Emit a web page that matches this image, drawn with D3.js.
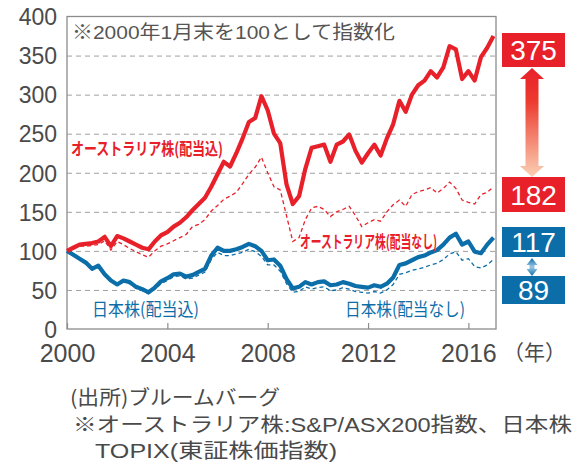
<!DOCTYPE html>
<meta charset="utf-8">
<style>
    body { margin: 0; background: #fff; }
    .grid line { stroke: #a0a0a0; stroke-width: 1; stroke-dasharray: 5, 4; }
    .grid .domain { display: none; }
    .yax text, .xax text { fill: #4a4a4a; font-family: "Liberation Sans", Arial, sans-serif; }
    .yax .domain, .xax .domain { display: none; }
    .xax line { stroke: #8c8c8c; stroke-width: 1.2; }
    .jp { font-family: "Liberation Sans", "Noto Sans CJK JP", sans-serif; }
    .cjk { font-family: "Noto Sans CJK JP", sans-serif; }
</style>
<body>
<script src="https://cdnjs.cloudflare.com/ajax/libs/d3/7.8.5/d3.min.js"></script>
<script>
    // quarterly points, end-Jan 2000 = 100
    var dates = d3.range(0, 69).map(function (i) { return 2000 + i * 0.25; });

    var auTotal = [100, 104, 108, 109, 110, 112, 118, 106, 119, 116, 112, 108, 104, 102, 112, 120,
        124, 131, 136, 143, 152, 160, 168, 182, 198, 214, 208, 225, 244, 265, 270, 298,
        280, 250, 238, 185, 160, 170, 205, 232, 234, 236, 214, 236, 240, 249, 228, 213,
        225, 236, 222, 244, 262, 292, 278, 300, 312, 318, 330, 322, 335, 362, 358, 320,
        330, 318, 348, 360, 375];
    var auPrice = [100, 103, 106, 106, 107, 108, 113, 101, 112, 108, 103, 99, 95, 92, 100, 106,
        109, 113, 117, 121, 131, 134, 140, 151, 158, 166, 170, 175, 186, 198, 207, 220,
        200, 182, 178, 145, 112, 117, 140, 155, 157, 153, 144, 150, 153, 157, 145, 131,
        136, 140, 138, 150, 159, 165, 157, 172, 176, 178, 181, 174, 180, 188, 180, 165,
        162, 160, 172, 175, 182];
    var jpTotal = [100, 95, 90, 85, 77, 81, 70, 62, 57, 62, 60, 54, 51, 47, 53, 61,
        65, 70, 71, 67, 69, 73, 77, 94, 104, 100, 100, 102, 105, 109, 106, 100,
        88, 89, 81, 64, 52, 54, 60, 57, 60, 61, 56, 57, 60, 58, 55, 54,
        53, 56, 54, 58, 66, 82, 84, 88, 92, 94, 98, 101, 108, 117, 122, 108,
        112, 99, 97, 108, 117];
    var jpPrice = [100, 95, 89, 84, 76, 80, 69, 61, 56, 60, 58, 52, 49, 45, 51, 58,
        62, 67, 68, 64, 65, 69, 73, 89, 98, 94, 94, 96, 98, 102, 99, 93,
        82, 82, 74, 58, 47, 48, 54, 51, 53, 54, 49, 50, 53, 51, 48, 47,
        46, 48, 46, 50, 57, 70, 72, 75, 77, 79, 82, 84, 89, 96, 99, 88,
        90, 80, 78, 82, 89];

    var yTicks = [0, 50, 100, 150, 200, 250, 300, 350, 400];
    var xTicks = [2000, 2004, 2008, 2012, 2016];
    var endLabels = ["375", "182", "117", "89"];

    var RED = "#e8202a", BLUE = "#0b6ea9";

    var width = 575, height = 462;
    var pLeft = 67, pRight = 496, pTop = 16.5, pBottom = 329;

    var svg = d3.select("body").append("svg")
        .attr("width", width)
        .attr("height", height);

    var x = d3.scaleLinear().domain([2000, 2017.1]).range([pLeft, pRight]);
    var y = d3.scaleLinear().domain([0, 400]).range([pBottom, pTop]);

    // dashed grid
    svg.append("g")
        .attr("class", "grid")
        .attr("transform", "translate(" + pLeft + ",0)")
        .call(d3.axisLeft(y).tickValues([50, 100, 150, 200, 250, 300, 350]).tickSize(-(pRight - pLeft)).tickFormat(""));

    // y labels
    svg.append("g")
        .attr("class", "yax")
        .attr("transform", "translate(" + pLeft + ",0)")
        .style("font-size", "23px")
        .call(d3.axisLeft(y).tickValues(yTicks).tickSize(0).tickPadding(10))
        .selectAll("text").attr("dy", "0.36em");

    // x axis, ticks pointing inward
    var xa = svg.append("g")
        .attr("class", "xax")
        .attr("transform", "translate(0," + pBottom + ")")
        .style("font-size", "25px")
        .call(d3.axisBottom(x).tickValues(xTicks).tickSize(-6).tickPadding(8).tickFormat(d3.format("d")));
    xa.selectAll("text").attr("y", 33).attr("dy", 0);

    svg.append("text")
        .attr("class", "jp")
        .attr("x", 503).attr("y", 360)
        .attr("fill", "#4a4a4a")
        .style("font-size", "21px")
        .text("（年）");

    // frame
    svg.append("rect")
        .attr("x", pLeft).attr("y", pTop)
        .attr("width", pRight - pLeft).attr("height", pBottom - pTop)
        .attr("fill", "none")
        .attr("stroke", "#8c8c8c")
        .attr("stroke-width", 1.3);

    function series(vals) {
        return vals.map(function (v, i) { return [dates[i], v]; });
    }
    var line = d3.line()
        .x(function (d) { return x(d[0]); })
        .y(function (d) { return y(d[1]); });

    svg.append("path").datum(series(jpPrice))
        .attr("d", line).attr("fill", "none")
        .attr("stroke", BLUE).attr("stroke-width", 1.3).attr("stroke-dasharray", "4,3");
    svg.append("path").datum(series(auPrice))
        .attr("d", line).attr("fill", "none")
        .attr("stroke", RED).attr("stroke-width", 1.3).attr("stroke-dasharray", "4,3");
    svg.append("path").datum(series(jpTotal))
        .attr("d", line).attr("fill", "none")
        .attr("stroke", BLUE).attr("stroke-width", 4.2).attr("stroke-linejoin", "round");
    svg.append("path").datum(series(auTotal))
        .attr("d", line).attr("fill", "none")
        .attr("stroke", RED).attr("stroke-width", 4.2).attr("stroke-linejoin", "round");

    // notes and series labels
    function label(txt, tx, ty, size, color, weight, len, cls) {
        var t = svg.append("text")
            .attr("class", cls || "jp")
            .attr("x", tx).attr("y", ty)
            .attr("fill", color)
            .style("font-size", size + "px")
            .style("font-weight", weight)
            .text(txt);
        if (len) t.attr("textLength", len).attr("lengthAdjust", "spacingAndGlyphs");
        return t;
    }
    label("※2000年1月末を100として指数化", 72, 39, 19, "#555", 400, 323);
    label("オーストラリア株(配当込)", 71, 155, 17, RED, 700, 152, "cjk");
    label("オーストラリア株(配当なし)", 300, 248, 17, RED, 700, 137, "cjk");
    label("日本株(配当込)", 92, 316, 18, BLUE, 400, 107, "cjk");
    label("日本株(配当なし)", 345, 316, 18, BLUE, 400, 120, "cjk");

    label("(出所)ブルームバーグ", 70, 405, 20, "#4a4a4a", 400, 210, "cjk");
    label("※オーストラリア株:S&P/ASX200指数、日本株", 73, 432, 20, "#4a4a4a", 400, 499);
    label("TOPIX(東証株価指数)", 95, 458, 20, "#4a4a4a", 400, 242);

    // end-value boxes
    var boxes = [
        { y0: 33, y1: 67, c: RED },
        { y0: 177, y1: 212, c: RED },
        { y0: 227, y1: 257, c: BLUE },
        { y0: 276, y1: 304, c: BLUE }
    ];
    boxes.forEach(function (b, i) {
        svg.append("rect")
            .attr("x", 502).attr("y", b.y0)
            .attr("width", 63).attr("height", b.y1 - b.y0)
            .attr("fill", b.c);
        svg.append("text")
            .attr("x", 533.5).attr("y", (b.y0 + b.y1) / 2)
            .attr("dy", "0.36em")
            .attr("text-anchor", "middle")
            .attr("fill", "#fff")
            .style("font-family", "'Liberation Sans', Arial, sans-serif")
            .style("font-size", "28px")
            .text(endLabels[i]);
    });

    // gradient double arrows
    var defs = svg.append("defs");
    var gr = defs.append("linearGradient").attr("id", "gRed")
        .attr("x1", 0).attr("y1", 0).attr("x2", 0).attr("y2", 1);
    gr.append("stop").attr("offset", "0%").attr("stop-color", RED);
    gr.append("stop").attr("offset", "30%").attr("stop-color", "#ec3a2e");
    gr.append("stop").attr("offset", "100%").attr("stop-color", "#fbd0b4");
    var gb = defs.append("linearGradient").attr("id", "gBlue")
        .attr("x1", 0).attr("y1", 0).attr("x2", 0).attr("y2", 1);
    gb.append("stop").attr("offset", "0%").attr("stop-color", BLUE);
    gb.append("stop").attr("offset", "50%").attr("stop-color", "#9cc8e6");
    gb.append("stop").attr("offset", "100%").attr("stop-color", BLUE);

    function dblArrow(cx, ya, yb, shaft, head, headH, fill) {
        var s = shaft / 2, h = head / 2;
        var p = [
            [cx, ya], [cx + h, ya + headH], [cx + s, ya + headH],
            [cx + s, yb - headH], [cx + h, yb - headH], [cx, yb],
            [cx - h, yb - headH], [cx - s, yb - headH], [cx - s, ya + headH],
            [cx - h, ya + headH]
        ];
        svg.append("path")
            .attr("d", "M" + p.join("L") + "Z")
            .attr("fill", fill);
    }
    dblArrow(532, 68, 177, 13, 24, 11, "url(#gRed)");
    dblArrow(532, 258, 276, 5, 11, 7, "url(#gBlue)");
</script>
</body>
